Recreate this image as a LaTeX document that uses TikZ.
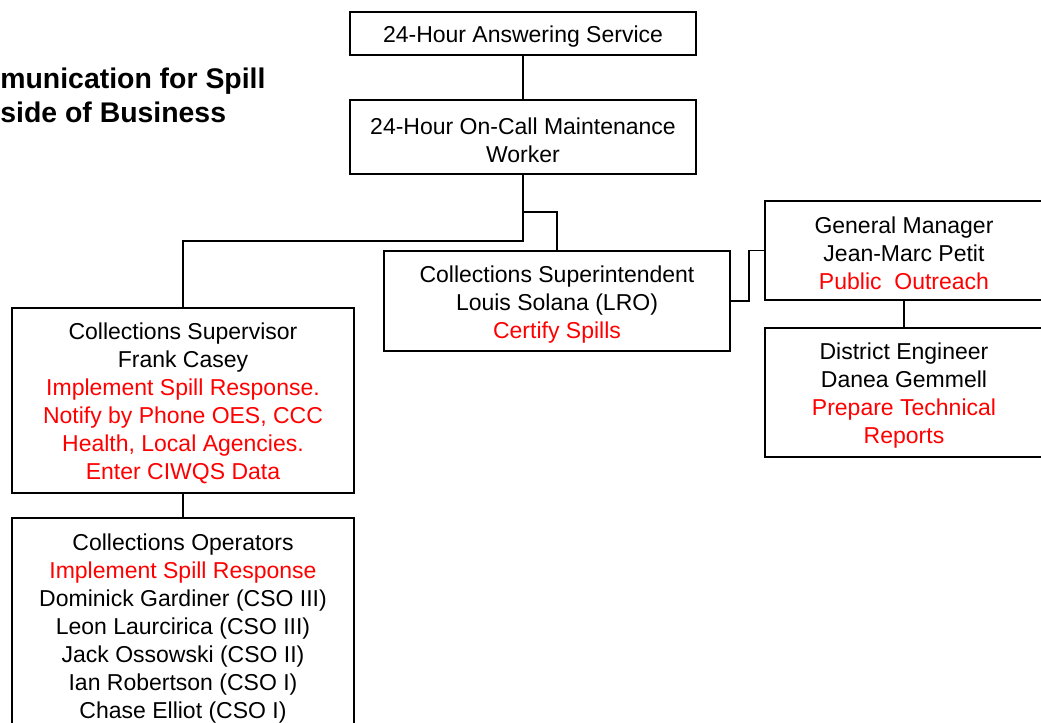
\documentclass[tikz,border=0pt]{standalone}
\usepackage{fontspec}
\setmainfont{Liberation Sans}
\usetikzlibrary{positioning}
\definecolor{spill}{RGB}{255,0,0}
\newcommand{\task}[1]{\textcolor{spill}{#1}}
\newcommand{\lift}{\rule{0pt}{11.6pt}}
\tikzstyle{box} = [draw, line width=0.75pt, inner sep=0pt, align=center, font=\fontsize{11.5}{14}\selectfont]
\tikzstyle{heading} = [anchor=west, inner sep=0pt, align=left, font=\fontsize{14.2}{17}\selectfont\bfseries]
\tikzstyle{link} = [line width=0.75pt]
\begin{document}
\begin{tikzpicture}[x=0.5pt, y=-0.5pt]
	\useasboundingbox (0,0) rectangle (1041,723);
	\clip (0,0) rectangle (1041,723);

	\node[heading] (title) at (0,95) {munication for Spill\\side of Business};

	\node[box, minimum width=173pt, minimum height=21.5pt] (answering) at (523,33.5) {\lift 24-Hour Answering Service};
	\node[box, minimum width=173pt, minimum height=37pt] (oncall) at (523,137) {\lift 24-Hour On-Call Maintenance\\Worker};
	\node[box, minimum width=173pt, minimum height=50pt] (superint) at (557,301) {\lift Collections Superintendent\\Louis Solana (LRO)\\\task{Certify Spills}};
	\node[box, minimum width=139pt, minimum height=49.5pt] (gm) at (904,250.5) {\lift General Manager\\Jean-Marc Petit\\\task{Public\ \ Outreach}};
	\node[box, minimum width=139pt, minimum height=64.5pt] (district) at (904,392.5) {\lift District Engineer\\Danea Gemmell\\\task{Prepare Technical}\\\task{Reports}};
	\node[box, minimum width=171pt, minimum height=92.5pt] (supervisor) at (183,400.5) {\lift Collections Supervisor\\Frank Casey\\\task{Implement Spill Response.}\\\task{Notify by Phone OES, CCC}\\\task{Health, Local Agencies.}\\\task{Enter CIWQS Data}};
	\node[box, minimum width=171pt, minimum height=107pt] (operators) at (183,625) {\lift Collections Operators\\\task{Implement Spill Response}\\Dominick Gardiner (CSO III)\\Leon Laurcirica (CSO III)\\Jack Ossowski (CSO II)\\Ian Robertson (CSO I)\\Chase Elliot (CSO I)};

	\coordinate (busA) at (523,212);
	\coordinate (busB) at (523,241);
	\draw[link] (answering) -- (oncall);
	\draw[link] (oncall.south) -- (busB) -| (supervisor.north);
	\draw[link] (busA) -| (superint.north);
	\draw[link] (superint.east) -- ++(18,0) |- (gm.west);
	\draw[link] (gm) -- (district);
	\draw[link] (supervisor) -- (operators);
\end{tikzpicture}
\end{document}
